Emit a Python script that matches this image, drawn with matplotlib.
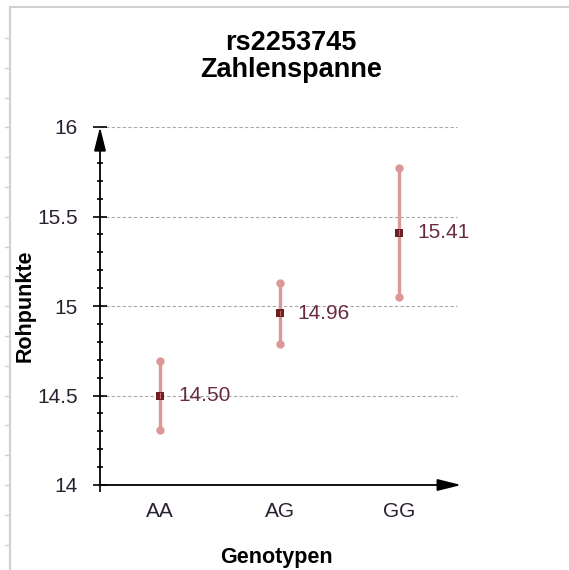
import numpy as np
import matplotlib
matplotlib.use("Agg")
import matplotlib.pyplot as plt
from matplotlib.lines import Line2D
from matplotlib.ticker import MultipleLocator

plt.rcParams['font.family'] = ['Liberation Sans', 'DejaVu Sans']

genotypes = ["AA", "AG", "GG"]
means = [14.50, 14.96, 15.41]
lower = [14.31, 14.79, 15.05]
upper = [14.69, 15.13, 15.77]

W, H = 569, 570
fig = plt.figure(figsize=(W / 100, H / 100), dpi=100)
ax = fig.add_axes([100 / W, 85 / H, 359 / W, 358 / H])

x = np.arange(len(genotypes)) + 0.5

# range bars with round ends
for xi, lo, hi in zip(x, lower, upper):
    ax.plot([xi, xi], [lo, hi], color="#dc9898", lw=2.4, solid_capstyle="butt", zorder=3)
    ax.plot([xi, xi], [lo, hi], ls="none", marker="o", ms=6, color="#dc9898",
            markeredgewidth=0, zorder=3)
ax.plot(x, means, ls="none", marker="s", ms=5.5, color="#6e2020", markeredgewidth=0, zorder=4)
ax.plot(np.column_stack([x, x]).T, np.vstack([np.array(means) - 0.012, np.array(means) + 0.012]),
        color="#b86a6a", lw=0.8, zorder=5)

for xi, m in zip(x, means):
    ax.annotate(f"{m:.2f}", (xi, m), xytext=(13, 0), textcoords="offset points",
                ha="left", va="center", fontsize=15, color="#6a2c3c")

ax.set_xlim(0, 3)
ax.set_ylim(14, 16)

# dashed grid
for yv in [14.5, 15, 15.5, 16]:
    ax.axhline(yv, xmin=0, xmax=0.995, color="#a8a8a8", lw=0.8, ls=(0, (3, 2)), zorder=1)

for s in ["top", "right", "left", "bottom"]:
    ax.spines[s].set_visible(False)

# axis lines with arrows
arrow = dict(arrowstyle="-|>,head_length=0.6,head_width=0.15", color="black", lw=1.3,
             mutation_scale=24, shrinkA=0, shrinkB=0)
ax.annotate("", xy=(0, 1.0), xytext=(0, 0), xycoords="axes fraction", arrowprops=arrow, zorder=6)
ax.annotate("", xy=(1.006, 0), xytext=(0, 0), xycoords="axes fraction", arrowprops=arrow, zorder=6)

ax.yaxis.set_minor_locator(MultipleLocator(0.1))
ax.set_yticks([14, 14.5, 15, 15.5, 16])
ax.set_yticklabels(["14", "14.5", "15", "15.5", "16"])
ax.tick_params(axis="y", which="major", direction="inout", length=10, width=1.2,
               labelsize=15, labelcolor="#2a2030", pad=11)
ax.tick_params(axis="y", which="minor", direction="inout", length=5, width=1.2)

ax.set_xticks(x)
ax.set_xticklabels(genotypes)
ax.set_xticks([0], minor=True)
ax.tick_params(axis="x", which="major", length=0, labelsize=15, labelcolor="#2a2030", pad=12)
ax.tick_params(axis="x", which="minor", direction="out", length=5, width=1.2)

ax.set_xlabel("Genotypen", fontsize=15.5, fontweight="bold")
ax.set_ylabel("Rohpunkte", fontsize=15.5, fontweight="bold")
ax.xaxis.set_label_coords(0.4916, -0.218)
ax.yaxis.set_label_coords(-0.209, 0.5)
ax.xaxis.label.set_va("baseline")
ax.yaxis.label.set_va("center")

fig.text(291 / W, 1 - 50 / H, "rs2253745", ha="center", va="baseline", fontsize=19.5, fontweight="bold")
fig.text(291 / W, 1 - 77 / H, "Zahlenspanne", ha="center", va="baseline", fontsize=19.5, fontweight="bold")

# sheet border and row marks on the left
fig.add_artist(Line2D([10 / W, 1], [1 - 7 / H, 1 - 7 / H], color="#d0d0d0", lw=1.5))
fig.add_artist(Line2D([10 / W, 10 / W], [0, 1 - 7 / H], color="#d0d0d0", lw=1.5))
for yp in np.arange(38, 560, 29.8):
    fig.add_artist(Line2D([5 / W, 10 / W], [1 - yp / H, 1 - yp / H], color="#d0d0d0", lw=1))

fig.savefig("out.png", dpi=100)
